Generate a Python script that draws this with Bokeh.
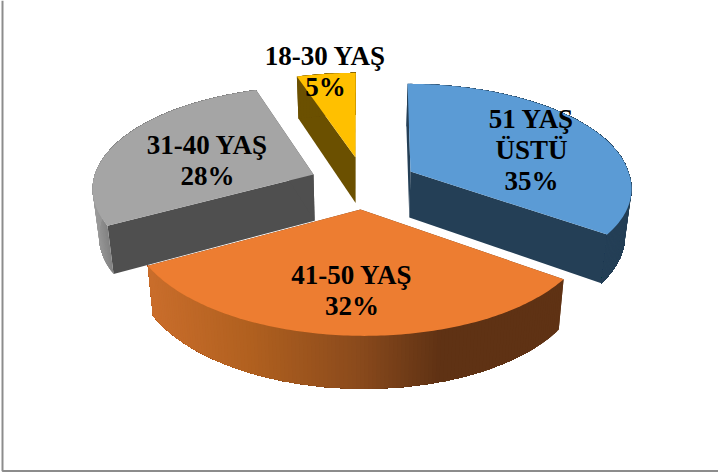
import numpy as np
from bokeh.core.properties import value
from bokeh.embed import file_html
from bokeh.models import ColumnDataSource, Range1d
from bokeh.plotting import figure
from bokeh.resources import INLINE

# Share of respondents per age group, in clockwise drawing order from 12 o'clock
groups = ["51 YAŞ\nÜSTÜ", "41-50 YAŞ", "31-40 YAŞ", "18-30 YAŞ"]
shares = [35, 32, 28, 5]

# Styling per slice
top_colors = ["#5B9BD5", "#ED7D31", "#A5A5A5", "#FFC000"]
face_colors = ["#243F56", "#5F3214", "#4F4F4F", "#6B5000"]
rim_stops = [
    ([0, 718], ["#243F56", "#243F56"]),
    ([150, 250, 358, 440, 718], ["#C96D2B", "#B0601F", "#8A4A1C", "#5F3214", "#5F3214"]),
    ([92, 112], ["#9A9A9A", "#7A7A7A"]),
    ([0, 718], ["#6B5000", "#6B5000"]),
]

# Layout in page pixels: where each exploded slice's tip sits and where its label goes
tips = [(410, 171), (360, 209), (313, 174), (355, 157)]
label_pos = [(531, 118), (351.5, 274), (207, 144), (325, 55)]
LINE_H = 31.0
FONT_PX = "27px"

# Perspective mapping from the pie's plane to the page
CX, CY, RX, RY, PERSP, NEAR_SKEW = 360.0, 172.0, 218.0, 99.3, 0.13, 0.03
SHRINK, DEPTH, DEPTH_SLOPE, REF_Y = 0.976, 46.0, 0.042, 171.0


def project(tip, t):
    """Page position of the rim point at clock angle t for a slice whose tip is at `tip`."""
    dy0 = tip[1] - CY
    z0 = dy0 / (RY + PERSP * dy0)
    z = z0 - np.cos(t)
    w0, w = 1.0 - PERSP * z0, 1.0 - PERSP * z
    py = CY + RY * z / w
    # The slice's sideways offset grows fully towards the viewer, less so away from it
    offset = (tip[0] - CX) * np.where(w < w0, w0 / w, np.sqrt(w0 / w))
    return CX + offset + RX * np.sin(t) / w + NEAR_SKEW * np.maximum(py - tip[1], 0), py


def lower(x, y):
    """Where a point of the top face lands on the slice's underside."""
    return CX + (x - CX) * SHRINK, y + DEPTH + DEPTH_SLOPE * (y - REF_Y)


def hex_rgb(c):
    return np.array([int(c[i:i + 2], 16) for i in (1, 3, 5)], dtype=float)


def ramp(x, stops):
    xs, cols = stops
    rgb = np.array([hex_rgb(c) for c in cols])
    return "#%02X%02X%02X" % tuple(int(round(np.interp(x, xs, rgb[:, k]))) for k in range(3))


p = figure(width=718, height=472, output_backend="svg", toolbar_location=None,
           x_range=Range1d(0, 718), y_range=Range1d(472, 0), min_border=0,
           x_axis_location=None, y_axis_location=None, outline_line_color=None)
p.grid.visible = False
p.background_fill_color = "#FFFFFF"

# Chart frame: only the left and bottom edges are drawn
p.line([2, 2, 718], [0, 470.5, 470.5], line_color="#8C8C8C", line_width=2)

total = sum(shares)
edges = 2 * np.pi * np.concatenate([[0], np.cumsum(shares)]) / total
draw_order = [2, 3, 0, 1]  # far slices first, the near one last

for i in draw_order:
    tip = tips[i]
    t = np.linspace(edges[i], edges[i + 1], max(int(shares[i] * 4), 8) + 1)
    ax, ay = project(tip, t)
    bx, by = lower(ax, ay)
    tbx, tby = lower(*tip)
    n = len(t) - 1

    # Flat cut faces at both ends of the slice
    for k in (0, -1):
        p.patch([tip[0], ax[k], bx[k], tbx], [tip[1], ay[k], by[k], tby],
                fill_color=face_colors[i], line_color=None)

    # Curved rim: overlapping strips, each running to the rim's far end, so no seams show
    strip_x = [[*ax[j:], *bx[j:][::-1]] for j in range(n)]
    strip_y = [[*ay[j:], *by[j:][::-1]] for j in range(n)]
    strip_c = [ramp(0.5 * (ax[j] + ax[j + 1]), rim_stops[i]) for j in range(n)]
    p.patches("x", "y", source=ColumnDataSource(dict(x=strip_x, y=strip_y, c=strip_c)),
              fill_color="c", line_color=None)

    # Top face
    p.patch([tip[0], *ax], [tip[1], *ay], fill_color=top_colors[i], line_color=None)

# Labels go on last so they sit above every slice
for name, share, (lx, ly) in zip(groups, shares, label_pos):
    rows = name.split("\n") + [f"{share}%"]
    p.text([lx] * len(rows), [ly + n * LINE_H for n in range(len(rows))], text=rows,
           text_font=value("Liberation Serif"), text_font_style="bold", text_font_size=FONT_PX,
           text_color="#000000", text_align="center", text_baseline="middle")

open("out.html", "w").write(file_html(p, INLINE))
